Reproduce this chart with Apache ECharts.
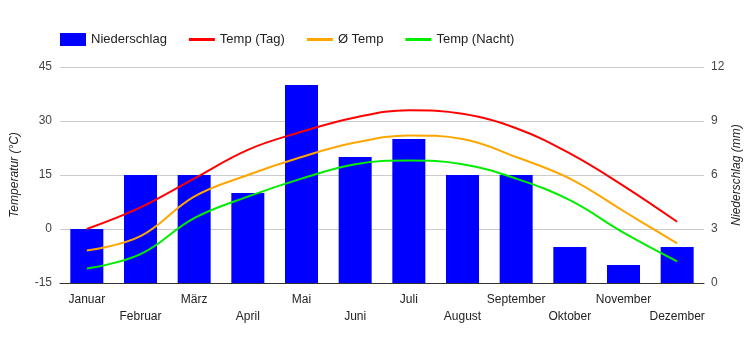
<!DOCTYPE html>
<html>
<head>
<meta charset="utf-8">
<script src="https://cdn.jsdelivr.net/npm/echarts@6/dist/echarts.min.js"></script>
<style>
  html, body { margin: 0; padding: 0; background: #fff; }
  #chart { width: 750px; height: 350px; }
</style>
</head>
<body>
<div id="chart"></div>
<script>
var months = ['Januar', 'Februar', 'März', 'April', 'Mai', 'Juni', 'Juli', 'August', 'September', 'Oktober', 'November', 'Dezember'];
var niederschlag = [3, 6, 6, 5, 11, 7, 8, 6, 6, 2, 1, 2];
var tempTag = [0, 6, 14, 22, 27, 31, 33, 32, 28, 21, 12, 2];
var tempMittel = [-6, -2, 9, 15, 20, 24, 26, 25, 20, 14, 5, -4];
var tempNacht = [-11, -7, 3, 9, 14, 18, 19, 18, 14, 8, -1, -9];

var dom = document.getElementById("chart");
var myChart = echarts.init(dom);
var font = 'Liberation Sans, Arial, sans-serif';
// thin bar used as legend icon for the line series
var lineIcon = 'path://M0,0H26V3H0Z';

var option = {
    animation: false,
    textStyle: { fontFamily: font },
    legend: {
        left: 60,
        top: 33,
        padding: 0,
        itemWidth: 26,
        itemHeight: 13,
        itemGap: 22,
        textStyle: { fontSize: 13, color: '#222', fontFamily: font },
        data: [
            { name: 'Niederschlag', icon: 'rect' },
            { name: 'Temp (Tag)', icon: lineIcon },
            { name: 'Ø Temp', icon: lineIcon },
            { name: 'Temp (Nacht)', icon: lineIcon }
        ]
    },
    grid: {
        left: 60,
        right: 46,
        top: 67,
        bottom: 67,
        outerBoundsMode: 'none'
    },
    xAxis: {
        type: 'category',
        data: months,
        axisTick: { show: false },
        axisLine: { onZero: false, lineStyle: { color: '#333', width: 1 } },
        axisLabel: {
            interval: 0,
            margin: 8,
            fontSize: 12,
            color: '#222',
            lineHeight: 17,
            formatter: function (value, index) {
                return index % 2 ? '\n' + value : value;
            }
        }
    },
    yAxis: [{
        type: 'value',
        min: -15,
        max: 45,
        interval: 15,
        name: 'Temperatur (°C)',
        nameLocation: 'middle',
        nameGap: 39,
        nameMoveOverlap: false,
        nameTextStyle: { fontStyle: 'italic', fontSize: 12, color: '#222' },
        axisLine: { show: false },
        axisTick: { show: false },
        axisLabel: { fontSize: 12, color: '#444', margin: 8 },
        splitLine: { lineStyle: { color: '#ccc' } }
    }, {
        type: 'value',
        min: 0,
        max: 12,
        interval: 3,
        name: 'Niederschlag (mm)',
        nameLocation: 'middle',
        nameGap: 27,
        nameRotate: 90,
        nameMoveOverlap: false,
        nameTextStyle: { fontStyle: 'italic', fontSize: 12, color: '#222' },
        axisLine: { show: false },
        axisTick: { show: false },
        axisLabel: { fontSize: 12, color: '#444', margin: 7 },
        splitLine: { show: false }
    }],
    series: [{
        name: 'Niederschlag',
        type: 'bar',
        yAxisIndex: 1,
        barWidth: 33,
        itemStyle: { color: '#0000ff' },
        data: niederschlag
    }, {
        name: 'Temp (Tag)',
        type: 'line',
        smooth: 0.4,
        symbol: 'none',
        lineStyle: { color: '#ff0000', width: 2 },
        itemStyle: { color: '#ff0000' },
        data: tempTag
    }, {
        name: 'Ø Temp',
        type: 'line',
        smooth: 0.4,
        symbol: 'none',
        lineStyle: { color: '#ffa500', width: 2 },
        itemStyle: { color: '#ffa500' },
        data: tempMittel
    }, {
        name: 'Temp (Nacht)',
        type: 'line',
        smooth: 0.4,
        symbol: 'none',
        lineStyle: { color: '#00ee00', width: 2 },
        itemStyle: { color: '#00ee00' },
        data: tempNacht
    }]
};

myChart.setOption(option, true);

window.onresize = function () {
    myChart.resize();
};
</script>
</body>
</html>
